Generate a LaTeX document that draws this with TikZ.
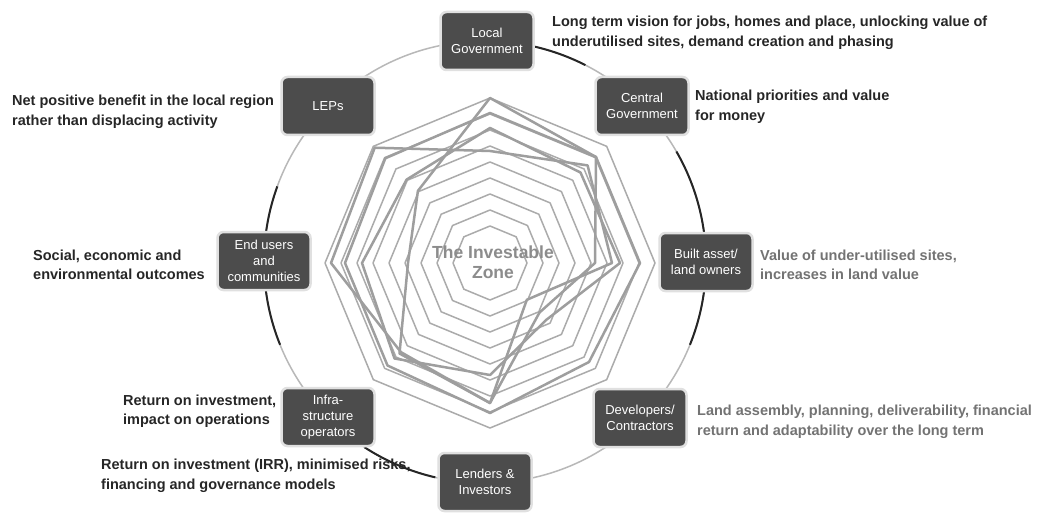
\documentclass[tikz,border=0pt]{standalone}
\usepackage{fontspec}
\setmainfont{Liberation Sans}
\usetikzlibrary{calc}
\begin{document}
\begin{tikzpicture}[x=1pt,y=-1pt,
  actor/.style={rounded corners=6pt, fill=black!70, draw=black!12, line width=2.5pt, text=white, align=center, minimum width=93pt, minimum height=58pt, inner sep=1pt, font=\fontsize{13}{16}\selectfont},
  note/.style={align=left, anchor=west, inner sep=0pt, font=\bfseries\fontsize{14.5}{19.5}\selectfont, text=black!85},
  notelight/.style={note, text=black!55},
  ring/.style={draw=black!33, line width=1.5pt, line join=round},
  series/.style={draw=black!38, line width=2.5pt, line join=round},
  rim/.style={draw=black!28, line width=1.5pt},
  rimdark/.style={draw=black!85, line width=2pt},
]
\useasboundingbox (0,0) rectangle (1040,513);
\fill[white] (0,0) rectangle (1040,513);
\coordinate (O) at (485,262);
\coordinate (R) at (490,263);

% radar grid rings
\foreach \r in {37,53,...,165}
  \draw[ring] ($(R)+(90:\r)$) -- ($(R)+(45:\r)$) -- ($(R)+(0:\r)$) -- ($(R)+(-45:\r)$)
    -- ($(R)+(-90:\r)$) -- ($(R)+(-135:\r)$) -- ($(R)+(180:\r)$) -- ($(R)+(135:\r)$) -- cycle;

% radar series
\draw[series] (490,98) -- (596,157) -- (595,263) -- (539.5,312.5) -- (490,403) -- (399.5,353.5) -- (408,263) -- (417.9,190.9) -- cycle;
\draw[series] (490,151) -- (587.6,165.4) -- (612,263) -- (526.8,299.8) -- (490,403) -- (400.9,352.1) -- (331,263) -- (374.7,147.7) -- cycle;
\draw[series] (490,128) -- (580.5,172.5) -- (620,263) -- (546.6,319.6) -- (490,375) -- (394.5,358.5) -- (362,263) -- (406.6,179.6) -- cycle;
\draw[series] (490,113) -- (596,157) -- (640,263) -- (589,362) -- (490,413) -- (387.5,365.5) -- (345,263) -- (385.3,158.3) -- cycle;

\node[font=\bfseries\fontsize{17.5}{20}\selectfont, text=black!45, align=center] (zone) at (493,262) {The Investable\\Zone};

% outer circle
\draw[rim] (O) circle[radius=221];
\draw[rimdark] ($(O)+(-77:221)$) arc[start angle=-77, end angle=-63, radius=221];
\draw[rimdark] ($(O)+(-160:221)$) arc[start angle=-160, end angle=-202, radius=221];
\draw[rimdark] ($(O)+(-30:221)$) arc[start angle=-30, end angle=22, radius=221];
\draw[rimdark] ($(O)+(-237:221)$) arc[start angle=-237, end angle=-257, radius=221];

% actors
\node[actor] (lg) at (487,41) {Local\\Government};
\node[actor] (cg) at (642,106) {Central\\Government};
\node[actor] (lep) at (328,106) {LEPs};
\node[actor] (eu) at (264,261) {End users\\and\\communities};
\node[actor] (ba) at (706,262) {Built asset/\\land owners};
\node[actor] (dc) at (640,418) {Developers/\\Contractors};
\node[actor] (io) at (328,417) {Infra-\\structure\\operators};
\node[actor] (li) at (485,482) {Lenders \&\\Investors};

% notes
\node[note] (n1) at (552,33) {Long term vision for jobs, homes and place, unlocking value of\\underutilised sites, demand creation and phasing};
\node[note] (n2) at (695,107) {National priorities and value\\for money};
\node[note] (n3) at (12,112) {Net positive benefit in the local region\\rather than displacing activity};
\node[note] (n4) at (33,265) {Social, economic and\\environmental outcomes};
\node[notelight] (n5) at (760,265) {Value of under-utilised sites,\\increases in land value};
\node[notelight] (n6) at (697,422) {Land assembly, planning, deliverability, financial\\return and adaptability over the long term};
\node[note] (n7) at (123,411) {Return on investment,\\impact on operations};
\node[note] (n8) at (101,476) {Return on investment (IRR), minimised risks,\\financing and governance models};
\end{tikzpicture}
\end{document}
